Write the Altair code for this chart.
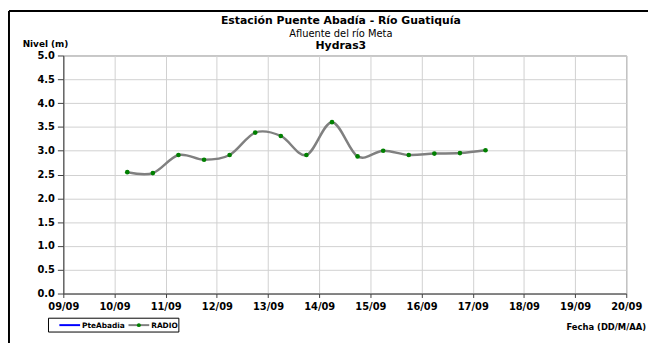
import altair as alt
import pandas as pd

# ---- data ----
fechas = [
    "2012-09-10 06:00", "2012-09-10 18:00", "2012-09-11 06:00", "2012-09-11 18:00",
    "2012-09-12 06:00", "2012-09-12 18:00", "2012-09-13 06:00", "2012-09-13 18:00",
    "2012-09-14 06:00", "2012-09-14 18:00", "2012-09-15 06:00", "2012-09-15 18:00",
    "2012-09-16 06:00", "2012-09-16 18:00", "2012-09-17 06:00",
]
nivel_radio = [2.55, 2.53, 2.91, 2.81, 2.91, 3.38, 3.31, 2.91, 3.60, 2.88,
               3.00, 2.91, 2.94, 2.95, 3.01]
dias_eje = [9, 10, 11, 12, 13, 14, 15, 16, 17, 18, 19, 20]
valores_y = [0.0, 0.5, 1.0, 1.5, 2.0, 2.5, 3.0, 3.5, 4.0, 4.5, 5.0]
titulo = "Estación Puente Abadía  - Río Guatiquía"
subtitulo = "Afluente del río Meta"
titulo2 = "Hydras3"
series = ["PteAbadia", "RADIO"]

ts = pd.to_datetime(fechas)
df = pd.DataFrame({"dia": ts.day + ts.hour / 24.0, "nivel": nivel_radio})

FONT = "DejaVu Sans"
W, H = 570, 241

x_enc = alt.X(
    "dia:Q",
    scale=alt.Scale(domain=[9, 20], nice=False, zero=False),
    axis=alt.Axis(
        values=dias_eje,
        labelExpr="(datum.value < 10 ? '0' : '') + datum.value + '/09'",
        title=None, tickSize=4, labelPadding=4,
        labelOverlap=False, labelFlush=False,
    ),
)
y_enc = alt.Y(
    "nivel:Q",
    scale=alt.Scale(domain=[0, 5], nice=False),
    axis=alt.Axis(values=valores_y, format=".1f", title=None, tickSize=6,
                  labelPadding=3, labelOverlap=False, labelFlush=False),
)

base = alt.Chart(df)
linea = base.mark_line(color="#808080", strokeWidth=2.5,
                       interpolate="cardinal", tension=0).encode(x=x_enc, y=y_enc)
puntos = base.mark_point(filled=True, color="#008000", size=22, opacity=1).encode(
    x=x_enc, y=y_enc)

one = pd.DataFrame({"k": [0]})


def texto(t, x, y, size, bold=True, align="center"):
    return alt.Chart(one).mark_text(
        text=t, font=FONT, fontSize=size, fontWeight="bold" if bold else "normal",
        align=align, baseline="alphabetic", color="black",
    ).encode(x=alt.value(x), y=alt.value(y))


t1 = texto(titulo, 281, -31.5, 11)
t2 = texto(subtitulo, 281, -19, 10, bold=False)
t3 = texto(titulo2, 281, -6.5, 11)
tn = texto("Nivel (m)", -18, -9, 9)
tf = texto("Fecha (DD/M/AA)", 590, 278, 8.5, align="right")

# frame
marco_h = alt.Chart(one).mark_rule(color="black", strokeWidth=2).encode(
    x=alt.value(-55), x2=alt.value(W + 30), y=alt.value(-45))
marco_v = alt.Chart(one).mark_rule(color="black", strokeWidth=2).encode(
    x=alt.value(-55), y=alt.value(-45), y2=alt.value(H + 60))

# custom legend
caja = alt.Chart(one).mark_rect(fill="white", stroke="black", strokeWidth=1).encode(
    x=alt.value(-15), x2=alt.value(117), y=alt.value(266), y2=alt.value(280))
l_azul = alt.Chart(one).mark_rule(color="#0000ff", strokeWidth=2).encode(
    x=alt.value(-4), x2=alt.value(17), y=alt.value(273))
l_gris = alt.Chart(one).mark_rule(color="#808080", strokeWidth=2).encode(
    x=alt.value(66), x2=alt.value(87), y=alt.value(273))
p_verde = alt.Chart(one).mark_point(filled=True, color="#008000", size=16, opacity=1).encode(
    x=alt.value(76.5), y=alt.value(273))
lt1 = texto(series[0], 19, 276, 7.5, align="left")
lt2 = texto(series[1], 89, 276, 7.5, align="left")

chart = alt.layer(
    linea, puntos, t1, t2, t3, tn, tf, marco_h, marco_v,
    caja, l_azul, l_gris, p_verde, lt1, lt2,
).properties(
    width=W, height=H,
    autosize=alt.AutoSizeParams(type="none"),
    padding={"left": 56, "top": 46, "right": 22, "bottom": 48},
).configure_axis(
    labelFont=FONT, labelFontWeight="bold", labelFontSize=10, labelColor="black",
    tickColor="#404040", domainColor="#404040", gridColor="#d0d0d0",
    gridWidth=1,
).configure_view(stroke="#808080", strokeWidth=1)

chart.save("out.html", embed_options={"renderer": "svg", "actions": False})
